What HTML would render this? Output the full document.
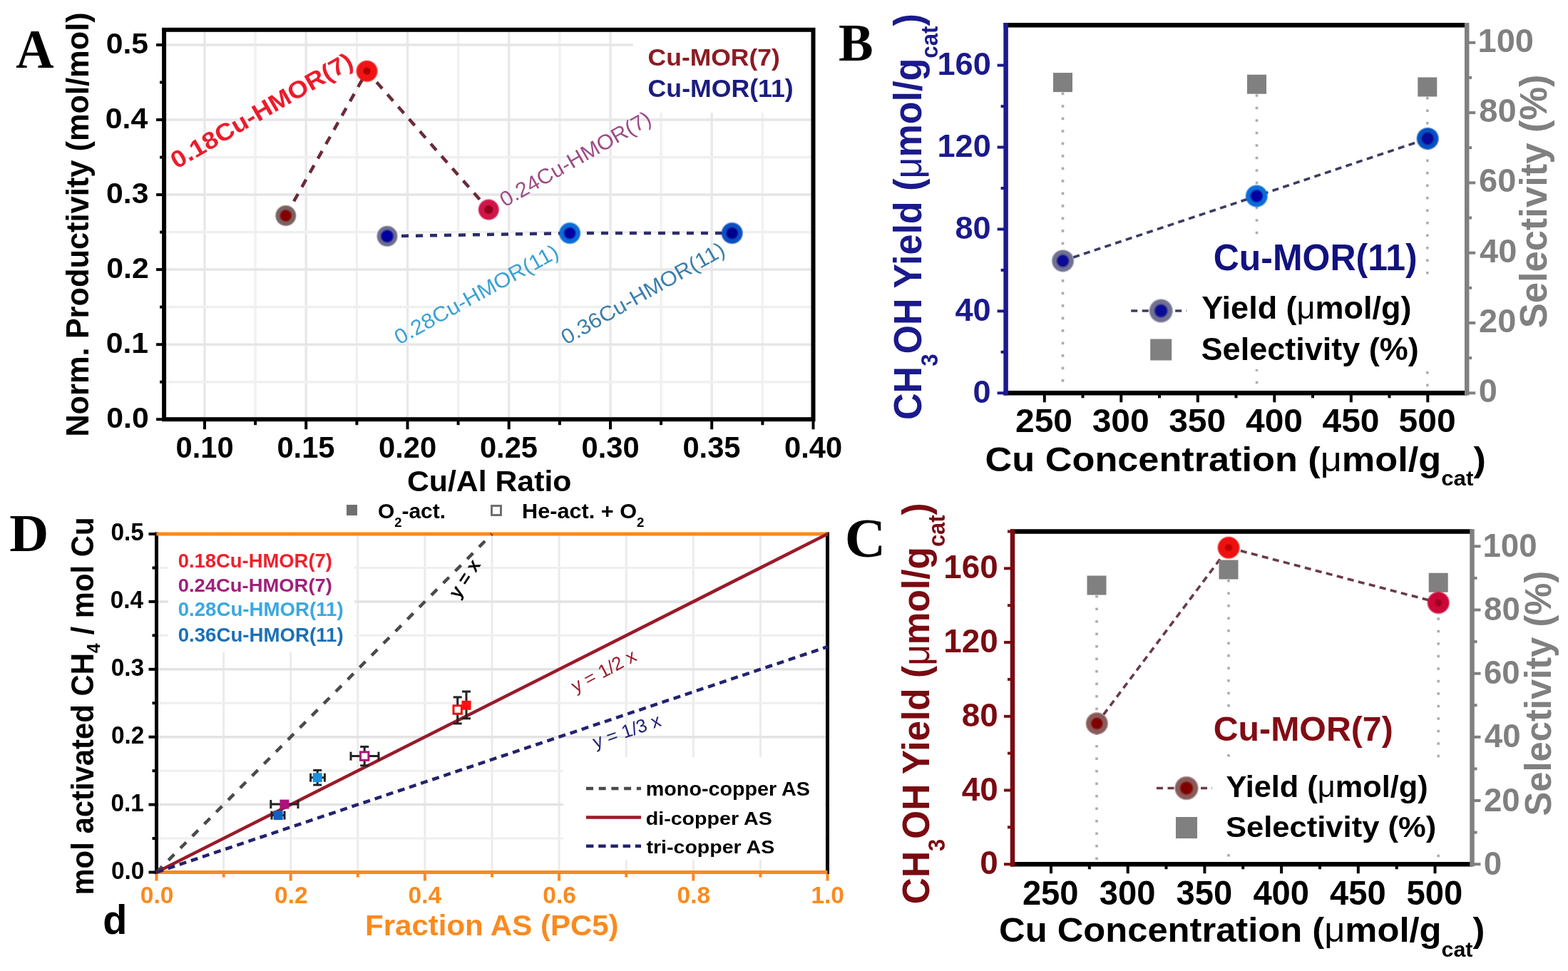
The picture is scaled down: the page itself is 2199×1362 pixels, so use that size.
<!DOCTYPE html>
<html><head><meta charset="utf-8"><title>Figure</title>
<style>html,body{margin:0;padding:0;background:#fff;} svg{display:block;}</style></head>
<body>
<svg xmlns="http://www.w3.org/2000/svg" width="2199" height="1362" viewBox="0 0 2199 1362">
<defs><radialGradient id="g0" cx="50%" cy="50%" r="50%"><stop offset="0" stop-color="#860000"/><stop offset="0.43" stop-color="#860000"/><stop offset="0.63" stop-color="#7a6262"/><stop offset="0.86" stop-color="#7a6262"/><stop offset="1" stop-color="#7a6262" stop-opacity="0.35"/></radialGradient><radialGradient id="g1" cx="50%" cy="50%" r="50%"><stop offset="0" stop-color="#b00000"/><stop offset="0.26" stop-color="#b00000"/><stop offset="0.38" stop-color="#f01414"/><stop offset="0.86" stop-color="#f01414"/><stop offset="1" stop-color="#f01414" stop-opacity="0.35"/></radialGradient><radialGradient id="g2" cx="50%" cy="50%" r="50%"><stop offset="0" stop-color="#900018"/><stop offset="0.32" stop-color="#900018"/><stop offset="0.47" stop-color="#d0144a"/><stop offset="0.86" stop-color="#d0144a"/><stop offset="1" stop-color="#d0144a" stop-opacity="0.35"/></radialGradient><radialGradient id="g3" cx="50%" cy="50%" r="50%"><stop offset="0" stop-color="#0000a0"/><stop offset="0.46" stop-color="#0000a0"/><stop offset="0.67" stop-color="#6c6c8c"/><stop offset="0.86" stop-color="#6c6c8c"/><stop offset="1" stop-color="#6c6c8c" stop-opacity="0.35"/></radialGradient><radialGradient id="g4" cx="50%" cy="50%" r="50%"><stop offset="0" stop-color="#0000a0"/><stop offset="0.41" stop-color="#0000a0"/><stop offset="0.61" stop-color="#0a6cd8"/><stop offset="0.86" stop-color="#0a6cd8"/><stop offset="1" stop-color="#0a6cd8" stop-opacity="0.35"/></radialGradient><radialGradient id="g5" cx="50%" cy="50%" r="50%"><stop offset="0" stop-color="#00008c"/><stop offset="0.41" stop-color="#00008c"/><stop offset="0.61" stop-color="#0a50c0"/><stop offset="0.86" stop-color="#0a50c0"/><stop offset="1" stop-color="#0a50c0" stop-opacity="0.35"/></radialGradient><radialGradient id="g6" cx="50%" cy="50%" r="50%"><stop offset="0" stop-color="#0a0a96"/><stop offset="0.42" stop-color="#0a0a96"/><stop offset="0.62" stop-color="#707090"/><stop offset="0.86" stop-color="#707090"/><stop offset="1" stop-color="#707090" stop-opacity="0.35"/></radialGradient><radialGradient id="g7" cx="50%" cy="50%" r="50%"><stop offset="0" stop-color="#0000a0"/><stop offset="0.42" stop-color="#0000a0"/><stop offset="0.62" stop-color="#0a6cd8"/><stop offset="0.86" stop-color="#0a6cd8"/><stop offset="1" stop-color="#0a6cd8" stop-opacity="0.35"/></radialGradient><radialGradient id="g8" cx="50%" cy="50%" r="50%"><stop offset="0" stop-color="#0a0a96"/><stop offset="0.42" stop-color="#0a0a96"/><stop offset="0.62" stop-color="#0850c0"/><stop offset="0.86" stop-color="#0850c0"/><stop offset="1" stop-color="#0850c0" stop-opacity="0.35"/></radialGradient><radialGradient id="g9" cx="50%" cy="50%" r="50%"><stop offset="0" stop-color="#0a0a96"/><stop offset="0.42" stop-color="#0a0a96"/><stop offset="0.62" stop-color="#707090"/><stop offset="0.86" stop-color="#707090"/><stop offset="1" stop-color="#707090" stop-opacity="0.35"/></radialGradient><radialGradient id="g10" cx="50%" cy="50%" r="50%"><stop offset="0" stop-color="#800000"/><stop offset="0.40" stop-color="#800000"/><stop offset="0.59" stop-color="#8a5a5a"/><stop offset="0.86" stop-color="#8a5a5a"/><stop offset="1" stop-color="#8a5a5a" stop-opacity="0.35"/></radialGradient><radialGradient id="g11" cx="50%" cy="50%" r="50%"><stop offset="0" stop-color="#c00000"/><stop offset="0.25" stop-color="#c00000"/><stop offset="0.37" stop-color="#ee1010"/><stop offset="0.86" stop-color="#ee1010"/><stop offset="1" stop-color="#ee1010" stop-opacity="0.35"/></radialGradient><radialGradient id="g12" cx="50%" cy="50%" r="50%"><stop offset="0" stop-color="#a00020"/><stop offset="0.25" stop-color="#a00020"/><stop offset="0.37" stop-color="#cc0838"/><stop offset="0.86" stop-color="#cc0838"/><stop offset="1" stop-color="#cc0838" stop-opacity="0.35"/></radialGradient><radialGradient id="g13" cx="50%" cy="50%" r="50%"><stop offset="0" stop-color="#800000"/><stop offset="0.42" stop-color="#800000"/><stop offset="0.62" stop-color="#8a5a5a"/><stop offset="0.86" stop-color="#8a5a5a"/><stop offset="1" stop-color="#8a5a5a" stop-opacity="0.35"/></radialGradient></defs>
<rect x="0" y="0" width="2199" height="1362" fill="#fff"/>
<line x1="287.0" y1="41.8" x2="287.0" y2="588.2" stroke="#e9e9e9" stroke-width="3.5" stroke-linecap="butt" />
<line x1="358.1" y1="41.8" x2="358.1" y2="588.2" stroke="#f1f1f1" stroke-width="3.5" stroke-linecap="butt" />
<line x1="429.2" y1="41.8" x2="429.2" y2="588.2" stroke="#e9e9e9" stroke-width="3.5" stroke-linecap="butt" />
<line x1="500.4" y1="41.8" x2="500.4" y2="588.2" stroke="#f1f1f1" stroke-width="3.5" stroke-linecap="butt" />
<line x1="571.5" y1="41.8" x2="571.5" y2="588.2" stroke="#e9e9e9" stroke-width="3.5" stroke-linecap="butt" />
<line x1="642.6" y1="41.8" x2="642.6" y2="588.2" stroke="#f1f1f1" stroke-width="3.5" stroke-linecap="butt" />
<line x1="713.7" y1="41.8" x2="713.7" y2="588.2" stroke="#e9e9e9" stroke-width="3.5" stroke-linecap="butt" />
<line x1="784.9" y1="41.8" x2="784.9" y2="588.2" stroke="#f1f1f1" stroke-width="3.5" stroke-linecap="butt" />
<line x1="856.0" y1="41.8" x2="856.0" y2="588.2" stroke="#e9e9e9" stroke-width="3.5" stroke-linecap="butt" />
<line x1="927.1" y1="41.8" x2="927.1" y2="588.2" stroke="#f1f1f1" stroke-width="3.5" stroke-linecap="butt" />
<line x1="998.2" y1="41.8" x2="998.2" y2="588.2" stroke="#e9e9e9" stroke-width="3.5" stroke-linecap="butt" />
<line x1="1069.4" y1="41.8" x2="1069.4" y2="588.2" stroke="#f1f1f1" stroke-width="3.5" stroke-linecap="butt" />
<line x1="230.1" y1="535.7" x2="1140.5" y2="535.7" stroke="#f0f0f0" stroke-width="3.5" stroke-linecap="butt" />
<line x1="230.1" y1="483.2" x2="1140.5" y2="483.2" stroke="#e6e6e6" stroke-width="3.5" stroke-linecap="butt" />
<line x1="230.1" y1="430.6" x2="1140.5" y2="430.6" stroke="#f0f0f0" stroke-width="3.5" stroke-linecap="butt" />
<line x1="230.1" y1="378.1" x2="1140.5" y2="378.1" stroke="#e6e6e6" stroke-width="3.5" stroke-linecap="butt" />
<line x1="230.1" y1="325.6" x2="1140.5" y2="325.6" stroke="#f0f0f0" stroke-width="3.5" stroke-linecap="butt" />
<line x1="230.1" y1="273.1" x2="1140.5" y2="273.1" stroke="#e6e6e6" stroke-width="3.5" stroke-linecap="butt" />
<line x1="230.1" y1="220.6" x2="1140.5" y2="220.6" stroke="#f0f0f0" stroke-width="3.5" stroke-linecap="butt" />
<line x1="230.1" y1="168.0" x2="1140.5" y2="168.0" stroke="#e6e6e6" stroke-width="3.5" stroke-linecap="butt" />
<line x1="230.1" y1="63.0" x2="1140.5" y2="63.0" stroke="#e6e6e6" stroke-width="3.5" stroke-linecap="butt" />
<rect x="888.0" y="44.0" width="249.0" height="114.0" fill="#fff" stroke="none" stroke-width="0"/>
<line x1="219.1" y1="588.2" x2="230.1" y2="588.2" stroke="#000" stroke-width="4" stroke-linecap="butt" />
<line x1="224.1" y1="535.7" x2="230.1" y2="535.7" stroke="#000" stroke-width="4" stroke-linecap="butt" />
<line x1="219.1" y1="483.2" x2="230.1" y2="483.2" stroke="#000" stroke-width="4" stroke-linecap="butt" />
<line x1="224.1" y1="430.6" x2="230.1" y2="430.6" stroke="#000" stroke-width="4" stroke-linecap="butt" />
<line x1="219.1" y1="378.1" x2="230.1" y2="378.1" stroke="#000" stroke-width="4" stroke-linecap="butt" />
<line x1="224.1" y1="325.6" x2="230.1" y2="325.6" stroke="#000" stroke-width="4" stroke-linecap="butt" />
<line x1="219.1" y1="273.1" x2="230.1" y2="273.1" stroke="#000" stroke-width="4" stroke-linecap="butt" />
<line x1="224.1" y1="220.6" x2="230.1" y2="220.6" stroke="#000" stroke-width="4" stroke-linecap="butt" />
<line x1="219.1" y1="168.0" x2="230.1" y2="168.0" stroke="#000" stroke-width="4" stroke-linecap="butt" />
<line x1="224.1" y1="115.5" x2="230.1" y2="115.5" stroke="#000" stroke-width="4" stroke-linecap="butt" />
<line x1="219.1" y1="63.0" x2="230.1" y2="63.0" stroke="#000" stroke-width="4" stroke-linecap="butt" />
<line x1="287.0" y1="588.2" x2="287.0" y2="602.2" stroke="#000" stroke-width="4" stroke-linecap="butt" />
<line x1="358.1" y1="588.2" x2="358.1" y2="596.2" stroke="#000" stroke-width="4" stroke-linecap="butt" />
<line x1="429.2" y1="588.2" x2="429.2" y2="602.2" stroke="#000" stroke-width="4" stroke-linecap="butt" />
<line x1="500.4" y1="588.2" x2="500.4" y2="596.2" stroke="#000" stroke-width="4" stroke-linecap="butt" />
<line x1="571.5" y1="588.2" x2="571.5" y2="602.2" stroke="#000" stroke-width="4" stroke-linecap="butt" />
<line x1="642.6" y1="588.2" x2="642.6" y2="596.2" stroke="#000" stroke-width="4" stroke-linecap="butt" />
<line x1="713.7" y1="588.2" x2="713.7" y2="602.2" stroke="#000" stroke-width="4" stroke-linecap="butt" />
<line x1="784.9" y1="588.2" x2="784.9" y2="596.2" stroke="#000" stroke-width="4" stroke-linecap="butt" />
<line x1="856.0" y1="588.2" x2="856.0" y2="602.2" stroke="#000" stroke-width="4" stroke-linecap="butt" />
<line x1="927.1" y1="588.2" x2="927.1" y2="596.2" stroke="#000" stroke-width="4" stroke-linecap="butt" />
<line x1="998.2" y1="588.2" x2="998.2" y2="602.2" stroke="#000" stroke-width="4" stroke-linecap="butt" />
<line x1="1069.4" y1="588.2" x2="1069.4" y2="596.2" stroke="#000" stroke-width="4" stroke-linecap="butt" />
<line x1="1140.5" y1="588.2" x2="1140.5" y2="602.2" stroke="#000" stroke-width="4" stroke-linecap="butt" />
<rect x="230.1" y="41.8" width="910.4" height="546.4" fill="none" stroke="#000" stroke-width="6"/>
<text x="149.3" y="599.9" font-size="41.50" fill="#000" font-weight="bold" text-anchor="start" font-family="'Liberation Sans', Arial, sans-serif" textLength="59.4" lengthAdjust="spacingAndGlyphs" >0.0</text>
<text x="148.7" y="494.9" font-size="41.50" fill="#000" font-weight="bold" text-anchor="start" font-family="'Liberation Sans', Arial, sans-serif" textLength="59.4" lengthAdjust="spacingAndGlyphs" >0.1</text>
<text x="149.3" y="389.8" font-size="41.50" fill="#000" font-weight="bold" text-anchor="start" font-family="'Liberation Sans', Arial, sans-serif" textLength="59.4" lengthAdjust="spacingAndGlyphs" >0.2</text>
<text x="149.1" y="284.8" font-size="41.50" fill="#000" font-weight="bold" text-anchor="start" font-family="'Liberation Sans', Arial, sans-serif" textLength="59.4" lengthAdjust="spacingAndGlyphs" >0.3</text>
<text x="147.8" y="179.7" font-size="41.50" fill="#000" font-weight="bold" text-anchor="start" font-family="'Liberation Sans', Arial, sans-serif" textLength="59.4" lengthAdjust="spacingAndGlyphs" >0.4</text>
<text x="148.7" y="74.7" font-size="41.50" fill="#000" font-weight="bold" text-anchor="start" font-family="'Liberation Sans', Arial, sans-serif" textLength="59.4" lengthAdjust="spacingAndGlyphs" >0.5</text>
<text x="246.5" y="642.1" font-size="42.50" fill="#000" font-weight="bold" text-anchor="start" font-family="'Liberation Sans', Arial, sans-serif" textLength="81.1" lengthAdjust="spacingAndGlyphs" >0.10</text>
<text x="388.4" y="642.1" font-size="42.50" fill="#000" font-weight="bold" text-anchor="start" font-family="'Liberation Sans', Arial, sans-serif" textLength="81.1" lengthAdjust="spacingAndGlyphs" >0.15</text>
<text x="531.0" y="642.1" font-size="42.50" fill="#000" font-weight="bold" text-anchor="start" font-family="'Liberation Sans', Arial, sans-serif" textLength="81.1" lengthAdjust="spacingAndGlyphs" >0.20</text>
<text x="672.9" y="642.1" font-size="42.50" fill="#000" font-weight="bold" text-anchor="start" font-family="'Liberation Sans', Arial, sans-serif" textLength="81.1" lengthAdjust="spacingAndGlyphs" >0.25</text>
<text x="815.5" y="642.1" font-size="42.50" fill="#000" font-weight="bold" text-anchor="start" font-family="'Liberation Sans', Arial, sans-serif" textLength="81.1" lengthAdjust="spacingAndGlyphs" >0.30</text>
<text x="957.4" y="642.1" font-size="42.50" fill="#000" font-weight="bold" text-anchor="start" font-family="'Liberation Sans', Arial, sans-serif" textLength="81.1" lengthAdjust="spacingAndGlyphs" >0.35</text>
<text x="1100.0" y="642.1" font-size="42.50" fill="#000" font-weight="bold" text-anchor="start" font-family="'Liberation Sans', Arial, sans-serif" textLength="81.1" lengthAdjust="spacingAndGlyphs" >0.40</text>
<text x="570.9" y="689.3" font-size="40.57" fill="#000" font-weight="bold" text-anchor="start" font-family="'Liberation Sans', Arial, sans-serif" textLength="230.5" lengthAdjust="spacingAndGlyphs" >Cu/Al Ratio</text>
<text x="0" y="0" transform="translate(123.9,612.8) rotate(-90)" font-size="44.64" fill="#000" font-weight="bold" text-anchor="start" font-family="'Liberation Sans', Arial, sans-serif" textLength="595.5" lengthAdjust="spacingAndGlyphs" >Norm. Productivity (mol/mol)</text>
<text x="22.2" y="95.2" font-size="77.58" fill="#000" font-weight="bold" text-anchor="start" font-family="'Liberation Serif', 'Times New Roman', serif" textLength="53.3" lengthAdjust="spacingAndGlyphs" >A</text>
<text x="908.6" y="91.5" font-size="34.06" fill="#8b1c24" font-weight="bold" text-anchor="start" font-family="'Liberation Sans', Arial, sans-serif" textLength="185.2" lengthAdjust="spacingAndGlyphs" >Cu-MOR(7)</text>
<text x="908.6" y="136.0" font-size="34.78" fill="#1c1c80" font-weight="bold" text-anchor="start" font-family="'Liberation Sans', Arial, sans-serif" textLength="204.1" lengthAdjust="spacingAndGlyphs" >Cu-MOR(11)</text>
<polyline points="400.8,302.5 514.6,99.8 685.3,294.1" fill="none" stroke="#6a2a38" stroke-width="4.5" stroke-dasharray="12 11"/>
<polyline points="543.0,331.3 799.1,327.1 1026.7,327.1" fill="none" stroke="#2c2c66" stroke-width="4.5" stroke-dasharray="10 10"/>
<circle cx="400.8" cy="302.5" r="15" fill="url(#g0)"/>
<circle cx="514.6" cy="99.8" r="15.5" fill="url(#g1)"/>
<circle cx="685.3" cy="294.1" r="15" fill="url(#g2)"/>
<circle cx="543.0" cy="331.3" r="15" fill="url(#g3)"/>
<circle cx="799.1" cy="327.1" r="15.5" fill="url(#g4)"/>
<circle cx="1026.7" cy="327.1" r="15.5" fill="url(#g5)"/>
<text x="0" y="0" transform="translate(247.5,237.5) rotate(-30.1)" font-size="33.50" fill="#ec1c2c" font-weight="bold" text-anchor="start" font-family="'Liberation Sans', Arial, sans-serif" textLength="289.0" lengthAdjust="spacingAndGlyphs" >0.18Cu-HMOR(7)</text>
<text x="0" y="0" transform="translate(708.0,291.0) rotate(-29.7)" font-size="29.50" fill="#9c4c88" font-weight="normal" text-anchor="start" font-family="'Liberation Sans', Arial, sans-serif" textLength="239.0" lengthAdjust="spacingAndGlyphs" >0.24Cu-HMOR(7)</text>
<text x="0" y="0" transform="translate(560.0,484.0) rotate(-28.9)" font-size="29.50" fill="#3aa0d4" font-weight="normal" text-anchor="start" font-family="'Liberation Sans', Arial, sans-serif" textLength="257.8" lengthAdjust="spacingAndGlyphs" >0.28Cu-HMOR(11)</text>
<text x="0" y="0" transform="translate(794.0,484.0) rotate(-29.6)" font-size="29.50" fill="#3a7eaa" font-weight="normal" text-anchor="start" font-family="'Liberation Sans', Arial, sans-serif" textLength="258.7" lengthAdjust="spacingAndGlyphs" >0.36Cu-HMOR(11)</text>
<line x1="1490.5" y1="129.6" x2="1490.5" y2="547.3" stroke="#acacac" stroke-width="3.6" stroke-linecap="butt" stroke-dasharray="3.6 13.9" />
<line x1="1762.5" y1="132.2" x2="1762.5" y2="547.3" stroke="#acacac" stroke-width="3.6" stroke-linecap="butt" stroke-dasharray="3.6 13.9" />
<line x1="2001.8" y1="136.0" x2="2001.8" y2="547.3" stroke="#acacac" stroke-width="3.6" stroke-linecap="butt" stroke-dasharray="3.6 13.9" />
<rect x="1700.0" y="336.0" width="290.0" height="56.0" fill="#fff" stroke="none" stroke-width="0"/>
<rect x="1580.0" y="392.0" width="435.0" height="126.0" fill="#fff" stroke="none" stroke-width="0"/>
<line x1="1398.6" y1="551.3" x2="1410.6" y2="551.3" stroke="#1a1a8c" stroke-width="4" stroke-linecap="butt" />
<line x1="1403.6" y1="493.8" x2="1410.6" y2="493.8" stroke="#1a1a8c" stroke-width="4" stroke-linecap="butt" />
<line x1="1398.6" y1="436.4" x2="1410.6" y2="436.4" stroke="#1a1a8c" stroke-width="4" stroke-linecap="butt" />
<line x1="1403.6" y1="378.9" x2="1410.6" y2="378.9" stroke="#1a1a8c" stroke-width="4" stroke-linecap="butt" />
<line x1="1398.6" y1="321.5" x2="1410.6" y2="321.5" stroke="#1a1a8c" stroke-width="4" stroke-linecap="butt" />
<line x1="1403.6" y1="264.0" x2="1410.6" y2="264.0" stroke="#1a1a8c" stroke-width="4" stroke-linecap="butt" />
<line x1="1398.6" y1="206.5" x2="1410.6" y2="206.5" stroke="#1a1a8c" stroke-width="4" stroke-linecap="butt" />
<line x1="1403.6" y1="149.1" x2="1410.6" y2="149.1" stroke="#1a1a8c" stroke-width="4" stroke-linecap="butt" />
<line x1="1398.6" y1="91.6" x2="1410.6" y2="91.6" stroke="#1a1a8c" stroke-width="4" stroke-linecap="butt" />
<line x1="2057.2" y1="551.3" x2="2069.2" y2="551.3" stroke="#808080" stroke-width="4" stroke-linecap="butt" />
<line x1="2057.2" y1="502.1" x2="2064.2" y2="502.1" stroke="#808080" stroke-width="4" stroke-linecap="butt" />
<line x1="2057.2" y1="453.0" x2="2069.2" y2="453.0" stroke="#808080" stroke-width="4" stroke-linecap="butt" />
<line x1="2057.2" y1="403.8" x2="2064.2" y2="403.8" stroke="#808080" stroke-width="4" stroke-linecap="butt" />
<line x1="2057.2" y1="354.7" x2="2069.2" y2="354.7" stroke="#808080" stroke-width="4" stroke-linecap="butt" />
<line x1="2057.2" y1="305.5" x2="2064.2" y2="305.5" stroke="#808080" stroke-width="4" stroke-linecap="butt" />
<line x1="2057.2" y1="256.4" x2="2069.2" y2="256.4" stroke="#808080" stroke-width="4" stroke-linecap="butt" />
<line x1="2057.2" y1="207.2" x2="2064.2" y2="207.2" stroke="#808080" stroke-width="4" stroke-linecap="butt" />
<line x1="2057.2" y1="158.1" x2="2069.2" y2="158.1" stroke="#808080" stroke-width="4" stroke-linecap="butt" />
<line x1="2057.2" y1="108.9" x2="2064.2" y2="108.9" stroke="#808080" stroke-width="4" stroke-linecap="butt" />
<line x1="2057.2" y1="59.8" x2="2069.2" y2="59.8" stroke="#808080" stroke-width="4" stroke-linecap="butt" />
<line x1="1464.8" y1="551.3" x2="1464.8" y2="564.3" stroke="#000" stroke-width="4" stroke-linecap="butt" />
<line x1="1518.5" y1="551.3" x2="1518.5" y2="558.3" stroke="#000" stroke-width="4" stroke-linecap="butt" />
<line x1="1572.3" y1="551.3" x2="1572.3" y2="564.3" stroke="#000" stroke-width="4" stroke-linecap="butt" />
<line x1="1626.0" y1="551.3" x2="1626.0" y2="558.3" stroke="#000" stroke-width="4" stroke-linecap="butt" />
<line x1="1679.8" y1="551.3" x2="1679.8" y2="564.3" stroke="#000" stroke-width="4" stroke-linecap="butt" />
<line x1="1733.5" y1="551.3" x2="1733.5" y2="558.3" stroke="#000" stroke-width="4" stroke-linecap="butt" />
<line x1="1787.3" y1="551.3" x2="1787.3" y2="564.3" stroke="#000" stroke-width="4" stroke-linecap="butt" />
<line x1="1841.0" y1="551.3" x2="1841.0" y2="558.3" stroke="#000" stroke-width="4" stroke-linecap="butt" />
<line x1="1894.8" y1="551.3" x2="1894.8" y2="564.3" stroke="#000" stroke-width="4" stroke-linecap="butt" />
<line x1="1948.5" y1="551.3" x2="1948.5" y2="558.3" stroke="#000" stroke-width="4" stroke-linecap="butt" />
<line x1="2002.3" y1="551.3" x2="2002.3" y2="564.3" stroke="#000" stroke-width="4" stroke-linecap="butt" />
<line x1="1407.6" y1="35.2" x2="2057.2" y2="35.2" stroke="#000" stroke-width="6.5" stroke-linecap="butt" />
<line x1="1407.6" y1="551.3" x2="2057.2" y2="551.3" stroke="#000" stroke-width="6.5" stroke-linecap="butt" />
<line x1="1410.6" y1="32.0" x2="1410.6" y2="554.5" stroke="#1a1a8c" stroke-width="6.5" stroke-linecap="butt" />
<line x1="2057.2" y1="32.0" x2="2057.2" y2="554.5" stroke="#808080" stroke-width="6.5" stroke-linecap="butt" />
<text x="1364.6" y="564.8" font-size="45.10" fill="#1a1a8c" font-weight="bold" text-anchor="start" font-family="'Liberation Sans', Arial, sans-serif" textLength="25.1" lengthAdjust="spacingAndGlyphs" >0</text>
<text x="1339.5" y="449.8" font-size="45.10" fill="#1a1a8c" font-weight="bold" text-anchor="start" font-family="'Liberation Sans', Arial, sans-serif" textLength="50.2" lengthAdjust="spacingAndGlyphs" >40</text>
<text x="1339.5" y="334.9" font-size="45.10" fill="#1a1a8c" font-weight="bold" text-anchor="start" font-family="'Liberation Sans', Arial, sans-serif" textLength="50.2" lengthAdjust="spacingAndGlyphs" >80</text>
<text x="1314.5" y="220.0" font-size="45.10" fill="#1a1a8c" font-weight="bold" text-anchor="start" font-family="'Liberation Sans', Arial, sans-serif" textLength="75.3" lengthAdjust="spacingAndGlyphs" >120</text>
<text x="1314.5" y="105.1" font-size="45.10" fill="#1a1a8c" font-weight="bold" text-anchor="start" font-family="'Liberation Sans', Arial, sans-serif" textLength="75.3" lengthAdjust="spacingAndGlyphs" >160</text>
<text x="2073.8" y="564.2" font-size="47.00" fill="#808080" font-weight="bold" text-anchor="start" font-family="'Liberation Sans', Arial, sans-serif" textLength="26.1" lengthAdjust="spacingAndGlyphs" >0</text>
<text x="2074.1" y="465.9" font-size="47.00" fill="#808080" font-weight="bold" text-anchor="start" font-family="'Liberation Sans', Arial, sans-serif" textLength="52.3" lengthAdjust="spacingAndGlyphs" >20</text>
<text x="2075.0" y="367.6" font-size="47.00" fill="#808080" font-weight="bold" text-anchor="start" font-family="'Liberation Sans', Arial, sans-serif" textLength="52.3" lengthAdjust="spacingAndGlyphs" >40</text>
<text x="2074.1" y="269.3" font-size="47.00" fill="#808080" font-weight="bold" text-anchor="start" font-family="'Liberation Sans', Arial, sans-serif" textLength="52.3" lengthAdjust="spacingAndGlyphs" >60</text>
<text x="2074.3" y="171.0" font-size="47.00" fill="#808080" font-weight="bold" text-anchor="start" font-family="'Liberation Sans', Arial, sans-serif" textLength="52.3" lengthAdjust="spacingAndGlyphs" >80</text>
<text x="2072.6" y="72.7" font-size="47.00" fill="#808080" font-weight="bold" text-anchor="start" font-family="'Liberation Sans', Arial, sans-serif" textLength="78.4" lengthAdjust="spacingAndGlyphs" >100</text>
<text x="1424.0" y="605.9" font-size="47.00" fill="#000" font-weight="bold" text-anchor="start" font-family="'Liberation Sans', Arial, sans-serif" textLength="80.0" lengthAdjust="spacingAndGlyphs" >250</text>
<text x="1531.7" y="605.9" font-size="47.00" fill="#000" font-weight="bold" text-anchor="start" font-family="'Liberation Sans', Arial, sans-serif" textLength="80.0" lengthAdjust="spacingAndGlyphs" >300</text>
<text x="1639.2" y="605.9" font-size="47.00" fill="#000" font-weight="bold" text-anchor="start" font-family="'Liberation Sans', Arial, sans-serif" textLength="80.0" lengthAdjust="spacingAndGlyphs" >350</text>
<text x="1747.0" y="605.9" font-size="47.00" fill="#000" font-weight="bold" text-anchor="start" font-family="'Liberation Sans', Arial, sans-serif" textLength="80.0" lengthAdjust="spacingAndGlyphs" >400</text>
<text x="1854.5" y="605.9" font-size="47.00" fill="#000" font-weight="bold" text-anchor="start" font-family="'Liberation Sans', Arial, sans-serif" textLength="80.0" lengthAdjust="spacingAndGlyphs" >450</text>
<text x="1961.6" y="605.9" font-size="47.00" fill="#000" font-weight="bold" text-anchor="start" font-family="'Liberation Sans', Arial, sans-serif" textLength="80.0" lengthAdjust="spacingAndGlyphs" >500</text>
<polyline points="1490.6,365.9 1762.3,275.0 2002.2,194.4" fill="none" stroke="#3c3c60" stroke-width="3.6" stroke-dasharray="9 6.5"/>
<rect x="1477.0" y="102.1" width="27.0" height="27.0" fill="#808080" stroke="none" stroke-width="0"/>
<rect x="1749.0" y="104.7" width="27.0" height="27.0" fill="#808080" stroke="none" stroke-width="0"/>
<rect x="1988.3" y="108.5" width="27.0" height="27.0" fill="#808080" stroke="none" stroke-width="0"/>
<circle cx="1490.6" cy="365.9" r="16" fill="url(#g6)"/>
<circle cx="1762.3" cy="275.0" r="16" fill="url(#g7)"/>
<circle cx="2002.2" cy="194.4" r="16" fill="url(#g8)"/>
<text x="1701.8" y="378.7" font-size="51.16" fill="#12127e" font-weight="bold" text-anchor="start" font-family="'Liberation Sans', Arial, sans-serif" textLength="285.8" lengthAdjust="spacingAndGlyphs" >Cu-MOR(11)</text>
<line x1="1586.2" y1="436.0" x2="1664.2" y2="436.0" stroke="#3c3c60" stroke-width="3.6" stroke-linecap="butt" stroke-dasharray="9 6.5" />
<circle cx="1628.2" cy="436.0" r="17" fill="url(#g9)"/>
<text x="1685.3" y="447.4" font-size="44.93" fill="#000" font-weight="bold" text-anchor="start" font-family="'Liberation Sans', Arial, sans-serif" textLength="294.1" lengthAdjust="spacingAndGlyphs" >Yield (<tspan font-weight="normal">μ</tspan>mol/g)</text>
<rect x="1613.2" y="475.5" width="30.0" height="30.0" fill="#808080" stroke="none" stroke-width="0"/>
<text x="1684.6" y="505.3" font-size="43.86" fill="#000" font-weight="bold" text-anchor="start" font-family="'Liberation Sans', Arial, sans-serif" textLength="305.1" lengthAdjust="spacingAndGlyphs" >Selectivity (%)</text>
<text x="1176.1" y="85.0" font-size="74.05" fill="#000" font-weight="bold" text-anchor="start" font-family="'Liberation Serif', 'Times New Roman', serif" textLength="48.6" lengthAdjust="spacingAndGlyphs" >B</text>
<text x="0" y="0" transform="translate(1292.2,589.0) rotate(-90)" font-size="55.07" fill="#1a1a8c" font-weight="bold" text-anchor="start" font-family="'Liberation Sans', Arial, sans-serif" textLength="569.8" lengthAdjust="spacingAndGlyphs" >CH<tspan font-size="33.0" dy="22.6">3</tspan><tspan dy="-22.6">OH Yield (<tspan font-weight="normal">μ</tspan>mol/g</tspan><tspan font-size="33.0" dy="22.6">cat</tspan><tspan dy="-22.6">)</tspan></text>
<text x="0" y="0" transform="translate(2168.6,460.3) rotate(-90)" font-size="52.86" fill="#808080" font-weight="bold" text-anchor="start" font-family="'Liberation Sans', Arial, sans-serif" textLength="355.9" lengthAdjust="spacingAndGlyphs" >Selectivity (%)</text>
<text x="1381.6" y="661.0" font-size="48.14" fill="#000" font-weight="bold" text-anchor="start" font-family="'Liberation Sans', Arial, sans-serif" textLength="702.3" lengthAdjust="spacingAndGlyphs" >Cu Concentration (<tspan font-weight="normal">μ</tspan>mol/g<tspan font-size="28.9" dy="20.2">cat</tspan><tspan dy="-20.2">)</tspan></text>
<line x1="1538.0" y1="835.0" x2="1538.0" y2="1208.2" stroke="#acacac" stroke-width="3.6" stroke-linecap="butt" stroke-dasharray="3.6 13.9" />
<line x1="1723.0" y1="813.0" x2="1723.0" y2="1208.2" stroke="#acacac" stroke-width="3.6" stroke-linecap="butt" stroke-dasharray="3.6 13.9" />
<line x1="2017.2" y1="831.2" x2="2017.2" y2="1208.2" stroke="#acacac" stroke-width="3.6" stroke-linecap="butt" stroke-dasharray="3.6 13.9" />
<rect x="1700.0" y="992.0" width="256.0" height="58.0" fill="#fff" stroke="none" stroke-width="0"/>
<rect x="1615.0" y="1072.0" width="410.0" height="115.0" fill="#fff" stroke="none" stroke-width="0"/>
<line x1="1408.0" y1="1212.2" x2="1420.0" y2="1212.2" stroke="#7a0a12" stroke-width="4" stroke-linecap="butt" />
<line x1="1413.0" y1="1160.3" x2="1420.0" y2="1160.3" stroke="#7a0a12" stroke-width="4" stroke-linecap="butt" />
<line x1="1408.0" y1="1108.5" x2="1420.0" y2="1108.5" stroke="#7a0a12" stroke-width="4" stroke-linecap="butt" />
<line x1="1413.0" y1="1056.6" x2="1420.0" y2="1056.6" stroke="#7a0a12" stroke-width="4" stroke-linecap="butt" />
<line x1="1408.0" y1="1004.8" x2="1420.0" y2="1004.8" stroke="#7a0a12" stroke-width="4" stroke-linecap="butt" />
<line x1="1413.0" y1="952.9" x2="1420.0" y2="952.9" stroke="#7a0a12" stroke-width="4" stroke-linecap="butt" />
<line x1="1408.0" y1="901.0" x2="1420.0" y2="901.0" stroke="#7a0a12" stroke-width="4" stroke-linecap="butt" />
<line x1="1413.0" y1="849.2" x2="1420.0" y2="849.2" stroke="#7a0a12" stroke-width="4" stroke-linecap="butt" />
<line x1="1408.0" y1="797.3" x2="1420.0" y2="797.3" stroke="#7a0a12" stroke-width="4" stroke-linecap="butt" />
<line x1="1413.0" y1="745.5" x2="1420.0" y2="745.5" stroke="#7a0a12" stroke-width="4" stroke-linecap="butt" />
<line x1="2064.5" y1="1212.2" x2="2076.5" y2="1212.2" stroke="#808080" stroke-width="4" stroke-linecap="butt" />
<line x1="2064.5" y1="1167.6" x2="2071.5" y2="1167.6" stroke="#808080" stroke-width="4" stroke-linecap="butt" />
<line x1="2064.5" y1="1123.0" x2="2076.5" y2="1123.0" stroke="#808080" stroke-width="4" stroke-linecap="butt" />
<line x1="2064.5" y1="1078.4" x2="2071.5" y2="1078.4" stroke="#808080" stroke-width="4" stroke-linecap="butt" />
<line x1="2064.5" y1="1033.8" x2="2076.5" y2="1033.8" stroke="#808080" stroke-width="4" stroke-linecap="butt" />
<line x1="2064.5" y1="989.2" x2="2071.5" y2="989.2" stroke="#808080" stroke-width="4" stroke-linecap="butt" />
<line x1="2064.5" y1="944.7" x2="2076.5" y2="944.7" stroke="#808080" stroke-width="4" stroke-linecap="butt" />
<line x1="2064.5" y1="900.1" x2="2071.5" y2="900.1" stroke="#808080" stroke-width="4" stroke-linecap="butt" />
<line x1="2064.5" y1="855.5" x2="2076.5" y2="855.5" stroke="#808080" stroke-width="4" stroke-linecap="butt" />
<line x1="2064.5" y1="810.9" x2="2071.5" y2="810.9" stroke="#808080" stroke-width="4" stroke-linecap="butt" />
<line x1="2064.5" y1="766.3" x2="2076.5" y2="766.3" stroke="#808080" stroke-width="4" stroke-linecap="butt" />
<line x1="1474.0" y1="1212.2" x2="1474.0" y2="1225.2" stroke="#000" stroke-width="4" stroke-linecap="butt" />
<line x1="1527.8" y1="1212.2" x2="1527.8" y2="1219.2" stroke="#000" stroke-width="4" stroke-linecap="butt" />
<line x1="1581.7" y1="1212.2" x2="1581.7" y2="1225.2" stroke="#000" stroke-width="4" stroke-linecap="butt" />
<line x1="1635.5" y1="1212.2" x2="1635.5" y2="1219.2" stroke="#000" stroke-width="4" stroke-linecap="butt" />
<line x1="1689.4" y1="1212.2" x2="1689.4" y2="1225.2" stroke="#000" stroke-width="4" stroke-linecap="butt" />
<line x1="1743.2" y1="1212.2" x2="1743.2" y2="1219.2" stroke="#000" stroke-width="4" stroke-linecap="butt" />
<line x1="1797.1" y1="1212.2" x2="1797.1" y2="1225.2" stroke="#000" stroke-width="4" stroke-linecap="butt" />
<line x1="1851.0" y1="1212.2" x2="1851.0" y2="1219.2" stroke="#000" stroke-width="4" stroke-linecap="butt" />
<line x1="1904.8" y1="1212.2" x2="1904.8" y2="1225.2" stroke="#000" stroke-width="4" stroke-linecap="butt" />
<line x1="1958.7" y1="1212.2" x2="1958.7" y2="1219.2" stroke="#000" stroke-width="4" stroke-linecap="butt" />
<line x1="2012.5" y1="1212.2" x2="2012.5" y2="1225.2" stroke="#000" stroke-width="4" stroke-linecap="butt" />
<line x1="1417.0" y1="745.4" x2="2064.5" y2="745.4" stroke="#000" stroke-width="6.5" stroke-linecap="butt" />
<line x1="1417.0" y1="1212.2" x2="2064.5" y2="1212.2" stroke="#000" stroke-width="6.5" stroke-linecap="butt" />
<line x1="1420.0" y1="742.2" x2="1420.0" y2="1215.4" stroke="#7a0a12" stroke-width="6.5" stroke-linecap="butt" />
<line x1="2064.5" y1="742.2" x2="2064.5" y2="1215.4" stroke="#808080" stroke-width="6.5" stroke-linecap="butt" />
<text x="1374.2" y="1226.2" font-size="46.80" fill="#7a0a12" font-weight="bold" text-anchor="start" font-family="'Liberation Sans', Arial, sans-serif" textLength="25.5" lengthAdjust="spacingAndGlyphs" >0</text>
<text x="1348.7" y="1122.5" font-size="46.80" fill="#7a0a12" font-weight="bold" text-anchor="start" font-family="'Liberation Sans', Arial, sans-serif" textLength="51.0" lengthAdjust="spacingAndGlyphs" >40</text>
<text x="1348.7" y="1018.8" font-size="46.80" fill="#7a0a12" font-weight="bold" text-anchor="start" font-family="'Liberation Sans', Arial, sans-serif" textLength="51.0" lengthAdjust="spacingAndGlyphs" >80</text>
<text x="1323.3" y="915.0" font-size="46.80" fill="#7a0a12" font-weight="bold" text-anchor="start" font-family="'Liberation Sans', Arial, sans-serif" textLength="76.5" lengthAdjust="spacingAndGlyphs" >120</text>
<text x="1323.3" y="811.3" font-size="46.80" fill="#7a0a12" font-weight="bold" text-anchor="start" font-family="'Liberation Sans', Arial, sans-serif" textLength="76.5" lengthAdjust="spacingAndGlyphs" >160</text>
<text x="2080.7" y="1226.8" font-size="47.00" fill="#808080" font-weight="bold" text-anchor="start" font-family="'Liberation Sans', Arial, sans-serif" textLength="25.4" lengthAdjust="spacingAndGlyphs" >0</text>
<text x="2080.9" y="1137.6" font-size="47.00" fill="#808080" font-weight="bold" text-anchor="start" font-family="'Liberation Sans', Arial, sans-serif" textLength="50.7" lengthAdjust="spacingAndGlyphs" >20</text>
<text x="2081.8" y="1048.4" font-size="47.00" fill="#808080" font-weight="bold" text-anchor="start" font-family="'Liberation Sans', Arial, sans-serif" textLength="50.7" lengthAdjust="spacingAndGlyphs" >40</text>
<text x="2080.9" y="959.3" font-size="47.00" fill="#808080" font-weight="bold" text-anchor="start" font-family="'Liberation Sans', Arial, sans-serif" textLength="50.7" lengthAdjust="spacingAndGlyphs" >60</text>
<text x="2081.1" y="870.1" font-size="47.00" fill="#808080" font-weight="bold" text-anchor="start" font-family="'Liberation Sans', Arial, sans-serif" textLength="50.7" lengthAdjust="spacingAndGlyphs" >80</text>
<text x="2079.5" y="780.9" font-size="47.00" fill="#808080" font-weight="bold" text-anchor="start" font-family="'Liberation Sans', Arial, sans-serif" textLength="76.1" lengthAdjust="spacingAndGlyphs" >100</text>
<text x="1433.9" y="1268.8" font-size="48.60" fill="#000" font-weight="bold" text-anchor="start" font-family="'Liberation Sans', Arial, sans-serif" textLength="78.7" lengthAdjust="spacingAndGlyphs" >250</text>
<text x="1541.8" y="1268.8" font-size="48.60" fill="#000" font-weight="bold" text-anchor="start" font-family="'Liberation Sans', Arial, sans-serif" textLength="78.7" lengthAdjust="spacingAndGlyphs" >300</text>
<text x="1649.5" y="1268.8" font-size="48.60" fill="#000" font-weight="bold" text-anchor="start" font-family="'Liberation Sans', Arial, sans-serif" textLength="78.7" lengthAdjust="spacingAndGlyphs" >350</text>
<text x="1757.4" y="1268.8" font-size="48.60" fill="#000" font-weight="bold" text-anchor="start" font-family="'Liberation Sans', Arial, sans-serif" textLength="78.7" lengthAdjust="spacingAndGlyphs" >400</text>
<text x="1865.1" y="1268.8" font-size="48.60" fill="#000" font-weight="bold" text-anchor="start" font-family="'Liberation Sans', Arial, sans-serif" textLength="78.7" lengthAdjust="spacingAndGlyphs" >450</text>
<text x="1972.5" y="1268.8" font-size="48.60" fill="#000" font-weight="bold" text-anchor="start" font-family="'Liberation Sans', Arial, sans-serif" textLength="78.7" lengthAdjust="spacingAndGlyphs" >500</text>
<polyline points="1538.3,1014.8 1723.1,768.2 2017.2,845.4" fill="none" stroke="#6a3a48" stroke-width="3.6" stroke-dasharray="9 6.5"/>
<rect x="1524.5" y="807.5" width="27.0" height="27.0" fill="#808080" stroke="none" stroke-width="0"/>
<rect x="1709.5" y="785.5" width="27.0" height="27.0" fill="#808080" stroke="none" stroke-width="0"/>
<rect x="2003.7" y="803.7" width="27.0" height="27.0" fill="#808080" stroke="none" stroke-width="0"/>
<circle cx="1538.3" cy="1014.8" r="16" fill="url(#g10)"/>
<circle cx="1723.1" cy="768.2" r="16" fill="url(#g11)"/>
<circle cx="2017.2" cy="845.4" r="16" fill="url(#g12)"/>
<text x="1701.7" y="1038.6" font-size="48.70" fill="#820c14" font-weight="bold" text-anchor="start" font-family="'Liberation Sans', Arial, sans-serif" textLength="252.1" lengthAdjust="spacingAndGlyphs" >Cu-MOR(7)</text>
<line x1="1622.0" y1="1105.5" x2="1700.0" y2="1105.5" stroke="#6a3a48" stroke-width="3.6" stroke-linecap="butt" stroke-dasharray="9 6.5" />
<circle cx="1664.0" cy="1105.5" r="17" fill="url(#g13)"/>
<text x="1719.4" y="1118.0" font-size="42.32" fill="#000" font-weight="bold" text-anchor="start" font-family="'Liberation Sans', Arial, sans-serif" textLength="283.3" lengthAdjust="spacingAndGlyphs" >Yield (<tspan font-weight="normal">μ</tspan>mol/g)</text>
<rect x="1649.0" y="1146.0" width="30.0" height="30.0" fill="#808080" stroke="none" stroke-width="0"/>
<text x="1719.0" y="1173.5" font-size="40.29" fill="#000" font-weight="bold" text-anchor="start" font-family="'Liberation Sans', Arial, sans-serif" textLength="295.2" lengthAdjust="spacingAndGlyphs" >Selectivity (%)</text>
<text x="1184.7" y="781.0" font-size="78.03" fill="#000" font-weight="bold" text-anchor="start" font-family="'Liberation Serif', 'Times New Roman', serif" textLength="57.4" lengthAdjust="spacingAndGlyphs" >C</text>
<text x="0" y="0" transform="translate(1302.5,1268.2) rotate(-90)" font-size="53.77" fill="#7a0a12" font-weight="bold" text-anchor="start" font-family="'Liberation Sans', Arial, sans-serif" textLength="562.9" lengthAdjust="spacingAndGlyphs" >CH<tspan font-size="32.3" dy="22.0">3</tspan><tspan dy="-22.0">OH Yield (<tspan font-weight="normal">μ</tspan>mol/g</tspan><tspan font-size="32.3" dy="22.0">cat</tspan><tspan dy="-22.0">)</tspan></text>
<text x="0" y="0" transform="translate(2175.3,1144.6) rotate(-90)" font-size="51.29" fill="#808080" font-weight="bold" text-anchor="start" font-family="'Liberation Sans', Arial, sans-serif" textLength="343.9" lengthAdjust="spacingAndGlyphs" >Selectivity (%)</text>
<text x="1401.1" y="1321.4" font-size="48.29" fill="#000" font-weight="bold" text-anchor="start" font-family="'Liberation Sans', Arial, sans-serif" textLength="681.3" lengthAdjust="spacingAndGlyphs" >Cu Concentration (<tspan font-weight="normal">μ</tspan>mol/g<tspan font-size="29.0" dy="20.3">cat</tspan><tspan dy="-20.3">)</tspan></text>
<line x1="313.6" y1="749.0" x2="313.6" y2="1223.5" stroke="#ebebeb" stroke-width="3" stroke-linecap="butt" />
<line x1="407.7" y1="749.0" x2="407.7" y2="1223.5" stroke="#ebebeb" stroke-width="3" stroke-linecap="butt" />
<line x1="501.8" y1="749.0" x2="501.8" y2="1223.5" stroke="#ebebeb" stroke-width="3" stroke-linecap="butt" />
<line x1="595.9" y1="749.0" x2="595.9" y2="1223.5" stroke="#ebebeb" stroke-width="3" stroke-linecap="butt" />
<line x1="690.0" y1="749.0" x2="690.0" y2="1223.5" stroke="#ebebeb" stroke-width="3" stroke-linecap="butt" />
<line x1="784.1" y1="749.0" x2="784.1" y2="1223.5" stroke="#ebebeb" stroke-width="3" stroke-linecap="butt" />
<line x1="878.2" y1="749.0" x2="878.2" y2="1223.5" stroke="#ebebeb" stroke-width="3" stroke-linecap="butt" />
<line x1="972.3" y1="749.0" x2="972.3" y2="1223.5" stroke="#ebebeb" stroke-width="3" stroke-linecap="butt" />
<line x1="1066.4" y1="749.0" x2="1066.4" y2="1223.5" stroke="#ebebeb" stroke-width="3" stroke-linecap="butt" />
<line x1="219.5" y1="1176.0" x2="1160.5" y2="1176.0" stroke="#efefef" stroke-width="3" stroke-linecap="butt" />
<line x1="219.5" y1="1128.6" x2="1160.5" y2="1128.6" stroke="#e3e3e3" stroke-width="3.5" stroke-linecap="butt" />
<line x1="219.5" y1="1081.2" x2="1160.5" y2="1081.2" stroke="#efefef" stroke-width="3" stroke-linecap="butt" />
<line x1="219.5" y1="1033.7" x2="1160.5" y2="1033.7" stroke="#e3e3e3" stroke-width="3.5" stroke-linecap="butt" />
<line x1="219.5" y1="986.2" x2="1160.5" y2="986.2" stroke="#efefef" stroke-width="3" stroke-linecap="butt" />
<line x1="219.5" y1="938.8" x2="1160.5" y2="938.8" stroke="#e3e3e3" stroke-width="3.5" stroke-linecap="butt" />
<line x1="219.5" y1="891.3" x2="1160.5" y2="891.3" stroke="#efefef" stroke-width="3" stroke-linecap="butt" />
<line x1="219.5" y1="843.9" x2="1160.5" y2="843.9" stroke="#e3e3e3" stroke-width="3.5" stroke-linecap="butt" />
<line x1="219.5" y1="796.5" x2="1160.5" y2="796.5" stroke="#efefef" stroke-width="3" stroke-linecap="butt" />
<rect x="236.0" y="752.0" width="261.0" height="163.0" fill="#fff" stroke="none" stroke-width="0"/>
<rect x="790.0" y="1062.0" width="367.0" height="144.0" fill="#fff" stroke="none" stroke-width="0"/>
<line x1="208.5" y1="1223.5" x2="219.5" y2="1223.5" stroke="#000" stroke-width="4" stroke-linecap="butt" />
<line x1="213.5" y1="1176.0" x2="219.5" y2="1176.0" stroke="#000" stroke-width="4" stroke-linecap="butt" />
<line x1="208.5" y1="1128.6" x2="219.5" y2="1128.6" stroke="#000" stroke-width="4" stroke-linecap="butt" />
<line x1="213.5" y1="1081.2" x2="219.5" y2="1081.2" stroke="#000" stroke-width="4" stroke-linecap="butt" />
<line x1="208.5" y1="1033.7" x2="219.5" y2="1033.7" stroke="#000" stroke-width="4" stroke-linecap="butt" />
<line x1="213.5" y1="986.2" x2="219.5" y2="986.2" stroke="#000" stroke-width="4" stroke-linecap="butt" />
<line x1="208.5" y1="938.8" x2="219.5" y2="938.8" stroke="#000" stroke-width="4" stroke-linecap="butt" />
<line x1="213.5" y1="891.3" x2="219.5" y2="891.3" stroke="#000" stroke-width="4" stroke-linecap="butt" />
<line x1="208.5" y1="843.9" x2="219.5" y2="843.9" stroke="#000" stroke-width="4" stroke-linecap="butt" />
<line x1="213.5" y1="796.5" x2="219.5" y2="796.5" stroke="#000" stroke-width="4" stroke-linecap="butt" />
<line x1="208.5" y1="749.0" x2="219.5" y2="749.0" stroke="#000" stroke-width="4" stroke-linecap="butt" />
<line x1="219.5" y1="1223.5" x2="219.5" y2="1235.5" stroke="#fa8a1e" stroke-width="4" stroke-linecap="butt" />
<line x1="313.6" y1="1223.5" x2="313.6" y2="1230.5" stroke="#fa8a1e" stroke-width="4" stroke-linecap="butt" />
<line x1="407.7" y1="1223.5" x2="407.7" y2="1235.5" stroke="#fa8a1e" stroke-width="4" stroke-linecap="butt" />
<line x1="501.8" y1="1223.5" x2="501.8" y2="1230.5" stroke="#fa8a1e" stroke-width="4" stroke-linecap="butt" />
<line x1="595.9" y1="1223.5" x2="595.9" y2="1235.5" stroke="#fa8a1e" stroke-width="4" stroke-linecap="butt" />
<line x1="690.0" y1="1223.5" x2="690.0" y2="1230.5" stroke="#fa8a1e" stroke-width="4" stroke-linecap="butt" />
<line x1="784.1" y1="1223.5" x2="784.1" y2="1235.5" stroke="#fa8a1e" stroke-width="4" stroke-linecap="butt" />
<line x1="878.2" y1="1223.5" x2="878.2" y2="1230.5" stroke="#fa8a1e" stroke-width="4" stroke-linecap="butt" />
<line x1="972.3" y1="1223.5" x2="972.3" y2="1235.5" stroke="#fa8a1e" stroke-width="4" stroke-linecap="butt" />
<line x1="1066.4" y1="1223.5" x2="1066.4" y2="1230.5" stroke="#fa8a1e" stroke-width="4" stroke-linecap="butt" />
<line x1="1160.5" y1="1223.5" x2="1160.5" y2="1235.5" stroke="#fa8a1e" stroke-width="4" stroke-linecap="butt" />
<line x1="219.5" y1="746.5" x2="219.5" y2="1226.0" stroke="#000" stroke-width="5" stroke-linecap="butt" />
<line x1="1160.5" y1="746.5" x2="1160.5" y2="1226.0" stroke="#000" stroke-width="5" stroke-linecap="butt" />
<line x1="219.5" y1="749.0" x2="1160.5" y2="749.0" stroke="#fa8a1e" stroke-width="5" stroke-linecap="butt" />
<line x1="219.5" y1="1223.5" x2="1160.5" y2="1223.5" stroke="#fa8a1e" stroke-width="5" stroke-linecap="butt" />
<text x="155.9" y="1232.7" font-size="34.40" fill="#000" font-weight="bold" text-anchor="start" font-family="'Liberation Sans', Arial, sans-serif" textLength="46.4" lengthAdjust="spacingAndGlyphs" >0.0</text>
<text x="155.4" y="1137.8" font-size="34.40" fill="#000" font-weight="bold" text-anchor="start" font-family="'Liberation Sans', Arial, sans-serif" textLength="46.4" lengthAdjust="spacingAndGlyphs" >0.1</text>
<text x="155.9" y="1042.9" font-size="34.40" fill="#000" font-weight="bold" text-anchor="start" font-family="'Liberation Sans', Arial, sans-serif" textLength="46.4" lengthAdjust="spacingAndGlyphs" >0.2</text>
<text x="155.7" y="948.0" font-size="34.40" fill="#000" font-weight="bold" text-anchor="start" font-family="'Liberation Sans', Arial, sans-serif" textLength="46.4" lengthAdjust="spacingAndGlyphs" >0.3</text>
<text x="154.7" y="853.1" font-size="34.40" fill="#000" font-weight="bold" text-anchor="start" font-family="'Liberation Sans', Arial, sans-serif" textLength="46.4" lengthAdjust="spacingAndGlyphs" >0.4</text>
<text x="155.4" y="758.2" font-size="34.40" fill="#000" font-weight="bold" text-anchor="start" font-family="'Liberation Sans', Arial, sans-serif" textLength="46.4" lengthAdjust="spacingAndGlyphs" >0.5</text>
<text x="196.8" y="1267.3" font-size="34.00" fill="#fa8a1e" font-weight="bold" text-anchor="start" font-family="'Liberation Sans', Arial, sans-serif" textLength="46.6" lengthAdjust="spacingAndGlyphs" >0.0</text>
<text x="385.0" y="1267.3" font-size="34.00" fill="#fa8a1e" font-weight="bold" text-anchor="start" font-family="'Liberation Sans', Arial, sans-serif" textLength="46.6" lengthAdjust="spacingAndGlyphs" >0.2</text>
<text x="572.6" y="1267.3" font-size="34.00" fill="#fa8a1e" font-weight="bold" text-anchor="start" font-family="'Liberation Sans', Arial, sans-serif" textLength="46.6" lengthAdjust="spacingAndGlyphs" >0.4</text>
<text x="761.3" y="1267.3" font-size="34.00" fill="#fa8a1e" font-weight="bold" text-anchor="start" font-family="'Liberation Sans', Arial, sans-serif" textLength="46.6" lengthAdjust="spacingAndGlyphs" >0.6</text>
<text x="949.5" y="1267.3" font-size="34.00" fill="#fa8a1e" font-weight="bold" text-anchor="start" font-family="'Liberation Sans', Arial, sans-serif" textLength="46.6" lengthAdjust="spacingAndGlyphs" >0.8</text>
<text x="1137.4" y="1267.3" font-size="34.00" fill="#fa8a1e" font-weight="bold" text-anchor="start" font-family="'Liberation Sans', Arial, sans-serif" textLength="46.6" lengthAdjust="spacingAndGlyphs" >1.0</text>
<text x="512.0" y="1311.5" font-size="41.30" fill="#fa8a1e" font-weight="bold" text-anchor="start" font-family="'Liberation Sans', Arial, sans-serif" textLength="355.6" lengthAdjust="spacingAndGlyphs" >Fraction AS (PC5)</text>
<text x="144.2" y="1310.0" font-size="57.93" fill="#000" font-weight="bold" text-anchor="start" font-family="'Liberation Sans', Arial, sans-serif" textLength="34.1" lengthAdjust="spacingAndGlyphs" >d</text>
<text x="13.2" y="773.2" font-size="74.50" fill="#000" font-weight="bold" text-anchor="start" font-family="'Liberation Serif', 'Times New Roman', serif" textLength="55.0" lengthAdjust="spacingAndGlyphs" >D</text>
<text x="0" y="0" transform="translate(130.7,1255.6) rotate(-90)" font-size="44.00" fill="#000" font-weight="bold" text-anchor="start" font-family="'Liberation Sans', Arial, sans-serif" textLength="530.1" lengthAdjust="spacingAndGlyphs" >mol activated CH<tspan font-size="26.4" dy="9.7">4</tspan><tspan dy="-9.7"> / mol Cu</tspan></text>
<line x1="219.5" y1="1223.5" x2="690.0" y2="749.0" stroke="#4a4a4a" stroke-width="4.5" stroke-linecap="butt" stroke-dasharray="11.5 12.3" />
<line x1="219.5" y1="1223.5" x2="1160.5" y2="749.0" stroke="#9a1a2a" stroke-width="4.5" stroke-linecap="butt" />
<line x1="219.5" y1="1223.5" x2="1160.5" y2="907.2" stroke="#22226e" stroke-width="4.5" stroke-linecap="butt" stroke-dasharray="10 7" />
<text x="249.7" y="795.6" font-size="27.25" fill="#f0202c" font-weight="bold" text-anchor="start" font-family="'Liberation Sans', Arial, sans-serif" textLength="216.2" lengthAdjust="spacingAndGlyphs" >0.18Cu-HMOR(7)</text>
<text x="249.7" y="829.7" font-size="26.38" fill="#a0207a" font-weight="bold" text-anchor="start" font-family="'Liberation Sans', Arial, sans-serif" textLength="216.2" lengthAdjust="spacingAndGlyphs" >0.24Cu-HMOR(7)</text>
<text x="249.7" y="864.4" font-size="27.25" fill="#3aa8e0" font-weight="bold" text-anchor="start" font-family="'Liberation Sans', Arial, sans-serif" textLength="232.0" lengthAdjust="spacingAndGlyphs" >0.28Cu-HMOR(11)</text>
<text x="249.7" y="899.6" font-size="27.25" fill="#1a70b8" font-weight="bold" text-anchor="start" font-family="'Liberation Sans', Arial, sans-serif" textLength="232.0" lengthAdjust="spacingAndGlyphs" >0.36Cu-HMOR(11)</text>
<line x1="822.0" y1="1106.0" x2="899.0" y2="1106.0" stroke="#4a4a4a" stroke-width="4.5" stroke-linecap="butt" stroke-dasharray="10 7.7" />
<line x1="822.0" y1="1146.5" x2="899.0" y2="1146.5" stroke="#9a1a2a" stroke-width="4.5" stroke-linecap="butt" />
<line x1="822.0" y1="1186.8" x2="899.0" y2="1186.8" stroke="#22226e" stroke-width="4.5" stroke-linecap="butt" stroke-dasharray="10.4 6.8" />
<text x="905.8" y="1116.2" font-size="28.12" fill="#000" font-weight="bold" text-anchor="start" font-family="'Liberation Sans', Arial, sans-serif" textLength="230.2" lengthAdjust="spacingAndGlyphs" >mono-copper AS</text>
<text x="905.7" y="1156.6" font-size="25.65" fill="#000" font-weight="bold" text-anchor="start" font-family="'Liberation Sans', Arial, sans-serif" textLength="177.2" lengthAdjust="spacingAndGlyphs" >di-copper AS</text>
<text x="906.5" y="1197.0" font-size="25.65" fill="#000" font-weight="bold" text-anchor="start" font-family="'Liberation Sans', Arial, sans-serif" textLength="179.7" lengthAdjust="spacingAndGlyphs" >tri-copper AS</text>
<rect x="486.0" y="708.0" width="15.0" height="15.0" fill="#707070" stroke="none" stroke-width="0"/>
<rect x="689.5" y="709.5" width="13.0" height="13.0" fill="none" stroke="#707070" stroke-width="3"/>
<text x="530.0" y="726.6" font-size="29.50" fill="#000" font-weight="bold" text-anchor="start" font-family="'Liberation Sans', Arial, sans-serif" textLength="95.0" lengthAdjust="spacingAndGlyphs" >O<tspan font-size="18" dy="12">2</tspan><tspan dy="-12">-act.</tspan></text>
<text x="732.0" y="726.6" font-size="29.50" fill="#000" font-weight="bold" text-anchor="start" font-family="'Liberation Sans', Arial, sans-serif" textLength="171.5" lengthAdjust="spacingAndGlyphs" >He-act. + O<tspan font-size="18" dy="12">2</tspan></text>
<text x="0" y="0" transform="translate(643.0,841.0) rotate(-57)" font-size="26.00" fill="#000" font-weight="bold" text-anchor="start" font-family="'Liberation Sans', Arial, sans-serif" >y = x</text>
<text x="0" y="0" transform="translate(807.0,972.0) rotate(-28)" font-size="26.00" fill="#9a1a2a" font-weight="normal" text-anchor="start" font-family="'Liberation Sans', Arial, sans-serif" >y = 1/2 x</text>
<text x="0" y="0" transform="translate(835.0,1050.0) rotate(-19)" font-size="26.00" fill="#202078" font-weight="normal" text-anchor="start" font-family="'Liberation Sans', Arial, sans-serif" >y = 1/3 x</text>
<line x1="379.8" y1="1128.1" x2="418.0" y2="1128.1" stroke="#222" stroke-width="3" stroke-linecap="butt" />
<line x1="379.8" y1="1122.1" x2="379.8" y2="1134.1" stroke="#222" stroke-width="3" stroke-linecap="butt" />
<line x1="418.0" y1="1122.1" x2="418.0" y2="1134.1" stroke="#222" stroke-width="3" stroke-linecap="butt" />
<rect x="392.4" y="1121.6" width="13.0" height="13.0" fill="#b0107a" stroke="none" stroke-width="0"/>
<line x1="381.0" y1="1143.6" x2="399.0" y2="1143.6" stroke="#222" stroke-width="3" stroke-linecap="butt" />
<line x1="381.0" y1="1137.6" x2="381.0" y2="1149.6" stroke="#222" stroke-width="3" stroke-linecap="butt" />
<line x1="399.0" y1="1137.6" x2="399.0" y2="1149.6" stroke="#222" stroke-width="3" stroke-linecap="butt" />
<rect x="383.6" y="1137.1" width="13.0" height="13.0" fill="#1060c0" stroke="none" stroke-width="0"/>
<line x1="435.6" y1="1090.7" x2="455.4" y2="1090.7" stroke="#222" stroke-width="3" stroke-linecap="butt" />
<line x1="435.6" y1="1084.7" x2="435.6" y2="1096.7" stroke="#222" stroke-width="3" stroke-linecap="butt" />
<line x1="455.4" y1="1084.7" x2="455.4" y2="1096.7" stroke="#222" stroke-width="3" stroke-linecap="butt" />
<line x1="445.2" y1="1080.4" x2="445.2" y2="1101.0" stroke="#222" stroke-width="3" stroke-linecap="butt" />
<line x1="439.2" y1="1080.4" x2="451.2" y2="1080.4" stroke="#222" stroke-width="3" stroke-linecap="butt" />
<line x1="439.2" y1="1101.0" x2="451.2" y2="1101.0" stroke="#222" stroke-width="3" stroke-linecap="butt" />
<rect x="438.7" y="1084.2" width="13.0" height="13.0" fill="#1a90e0" stroke="none" stroke-width="0"/>
<line x1="492.0" y1="1060.6" x2="531.0" y2="1060.6" stroke="#222" stroke-width="3" stroke-linecap="butt" />
<line x1="492.0" y1="1054.6" x2="492.0" y2="1066.6" stroke="#222" stroke-width="3" stroke-linecap="butt" />
<line x1="531.0" y1="1054.6" x2="531.0" y2="1066.6" stroke="#222" stroke-width="3" stroke-linecap="butt" />
<line x1="511.2" y1="1047.4" x2="511.2" y2="1073.8" stroke="#222" stroke-width="3" stroke-linecap="butt" />
<line x1="505.2" y1="1047.4" x2="517.2" y2="1047.4" stroke="#222" stroke-width="3" stroke-linecap="butt" />
<line x1="505.2" y1="1073.8" x2="517.2" y2="1073.8" stroke="#222" stroke-width="3" stroke-linecap="butt" />
<rect x="505.5" y="1054.9" width="11.4" height="11.4" fill="#fff" stroke="#b0107a" stroke-width="3"/>
<line x1="641.7" y1="977.9" x2="641.7" y2="1014.9" stroke="#222" stroke-width="3" stroke-linecap="butt" />
<line x1="635.7" y1="977.9" x2="647.7" y2="977.9" stroke="#222" stroke-width="3" stroke-linecap="butt" />
<line x1="635.7" y1="1014.9" x2="647.7" y2="1014.9" stroke="#222" stroke-width="3" stroke-linecap="butt" />
<rect x="636.0" y="989.8" width="11.4" height="11.4" fill="#fff" stroke="#ee1010" stroke-width="3"/>
<line x1="654.0" y1="970.0" x2="654.0" y2="1007.8" stroke="#222" stroke-width="3" stroke-linecap="butt" />
<line x1="648.0" y1="970.0" x2="660.0" y2="970.0" stroke="#222" stroke-width="3" stroke-linecap="butt" />
<line x1="648.0" y1="1007.8" x2="660.0" y2="1007.8" stroke="#222" stroke-width="3" stroke-linecap="butt" />
<rect x="647.5" y="982.8" width="13.0" height="13.0" fill="#ff1010" stroke="none" stroke-width="0"/>
</svg>
</body></html>
